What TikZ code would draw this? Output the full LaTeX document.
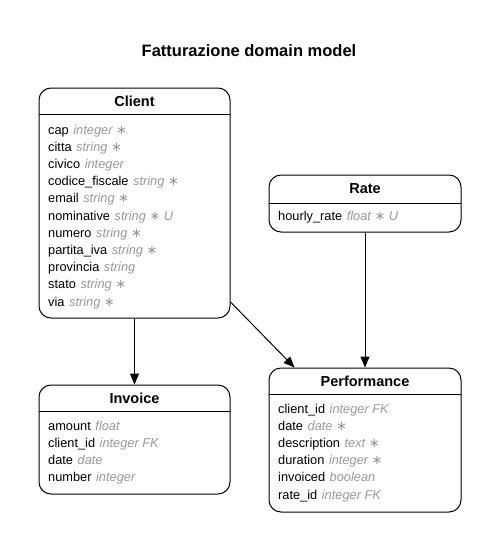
\documentclass[tikz,border=0pt]{standalone}
\usepackage{fontspec}
\setmainfont{Liberation Sans}
\newfontfamily\symfont{DejaVu Sans}
\usetikzlibrary{arrows.meta,calc}
\definecolor{typegray}{HTML}{999999}
\tikzset{
  entity/.style={draw=black, line width=1pt, rounded corners=12pt, fill=white, inner sep=0pt},
  etitle/.style={font=\bfseries\fontsize{14.5}{16}\selectfont, anchor=base, inner sep=0pt},
  field/.style={font=\fontsize{12.8}{14}\selectfont, anchor=base west, inner sep=0pt},
  arr/.style={line width=1pt, -{Triangle[length=11pt,width=9pt]}},
  hline/.style={line width=1pt}
}
\newcommand{\ty}[1]{\hspace{1pt}{\color{typegray}\itshape #1}}
\newcommand{\req}{{\upshape\symfont\fontsize{13}{14}\selectfont ∗}}
\begin{document}
\begin{tikzpicture}[x=1pt,y=-1pt]
\useasboundingbox[fill=white] (0,0) rectangle (499,551);
\node[font=\bfseries\fontsize{16.5}{18}\selectfont] (title) at (249,51) {Fatturazione domain model};

% Client
\node[entity, minimum width=191pt, minimum height=230pt] (client) at (134.5,203) {};
\draw[hline] (39,114) -- (230,114);
\node[etitle] (clientT) at (134.5,106) {Client};
\node[field] (c1) at (48,134) {cap \ty{integer \req}};
\node[field] (c2) at (48,151.2) {citta \ty{string \req}};
\node[field] (c3) at (48,168.4) {civico \ty{integer}};
\node[field] (c4) at (48,185.6) {codice\_fiscale \ty{string \req}};
\node[field] (c5) at (48,202.8) {email \ty{string \req}};
\node[field] (c6) at (48,220) {nominative \ty{string \req\ U}};
\node[field] (c7) at (48,237.2) {numero \ty{string \req}};
\node[field] (c8) at (48,254.4) {partita\_iva \ty{string \req}};
\node[field] (c9) at (48,271.6) {provincia \ty{string}};
\node[field] (c10) at (48,288.8) {stato \ty{string \req}};
\node[field] (c11) at (48,306) {via \ty{string \req}};

% Rate
\node[entity, minimum width=192pt, minimum height=57pt] (rate) at (365,203.5) {};
\draw[hline] (269,203) -- (461,203);
\node[etitle] (rateT) at (365,193) {Rate};
\node[field] (r1) at (278,220) {hourly\_rate \ty{float \req\ U}};

% Invoice
\node[entity, minimum width=191pt, minimum height=109pt] (invoice) at (134.5,439.5) {};
\draw[hline] (39,411) -- (230,411);
\node[etitle] (invoiceT) at (134.5,403) {Invoice};
\node[field] (i1) at (48,430) {amount \ty{float}};
\node[field] (i2) at (48,447.2) {client\_id \ty{integer FK}};
\node[field] (i3) at (48,464.4) {date \ty{date}};
\node[field] (i4) at (48,481.6) {number \ty{integer}};

% Performance
\node[entity, minimum width=192pt, minimum height=144pt] (perf) at (365,440) {};
\draw[hline] (269,394) -- (461,394);
\node[etitle] (perfT) at (365,386) {Performance};
\node[field] (p1) at (278,413) {client\_id \ty{integer FK}};
\node[field] (p2) at (278,430.2) {date \ty{date \req}};
\node[field] (p3) at (278,447.4) {description \ty{text \req}};
\node[field] (p4) at (278,464.6) {duration \ty{integer \req}};
\node[field] (p5) at (278,481.8) {invoiced \ty{boolean}};
\node[field] (p6) at (278,499) {rate\_id \ty{integer FK}};

% Connectors
\coordinate (cpStart) at ($(client.east)+(0,99)$);
\coordinate (cpEnd) at ($(perf.north west)+(26,0)$);
\draw[arr] (client.south) -- (invoice.north);
\draw[arr] (cpStart) -- (cpEnd);
\draw[arr] (rate.south) -- (perf.north);
\end{tikzpicture}
\end{document}
